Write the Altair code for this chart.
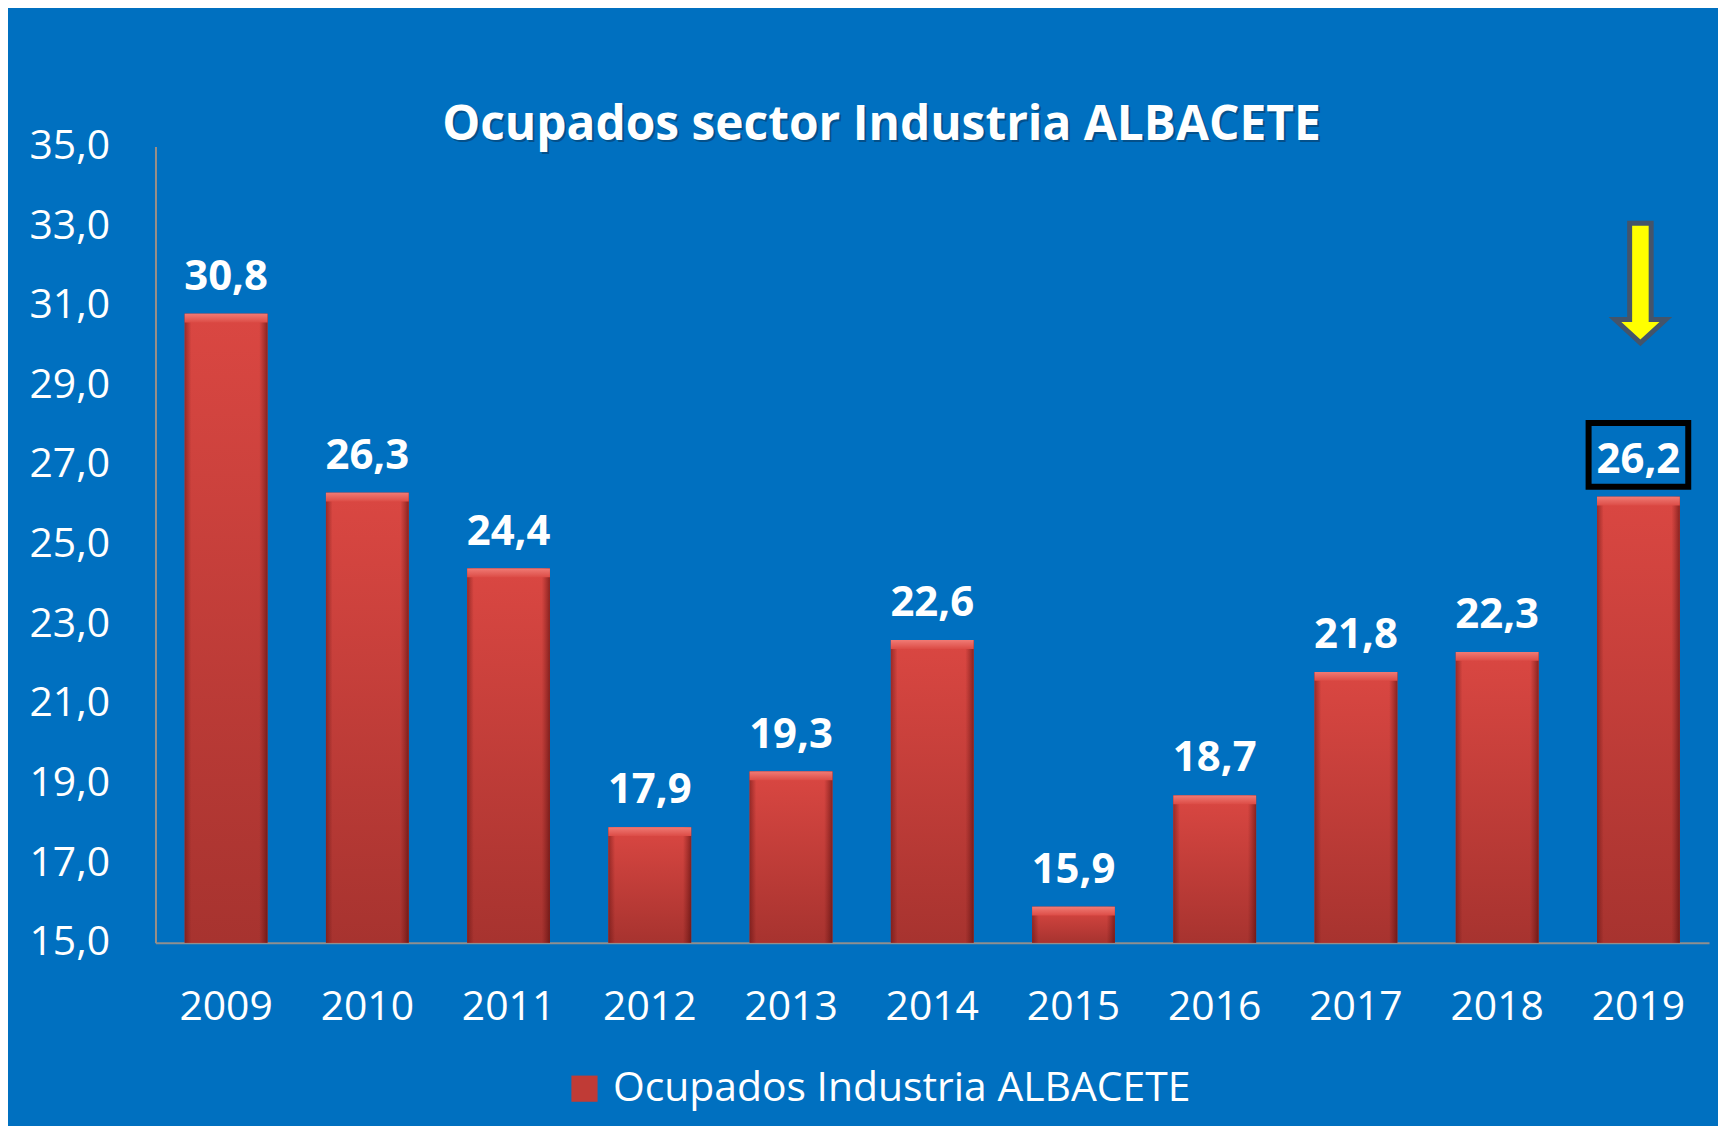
import altair as alt
import pandas as pd

# ---- data ----
years = ["2009", "2010", "2011", "2012", "2013", "2014", "2015", "2016", "2017", "2018", "2019"]
values = [30.8, 26.3, 24.4, 17.9, 19.3, 22.6, 15.9, 18.7, 21.8, 22.3, 26.2]
series_name = "Ocupados Industria ALBACETE"
title_text = "Ocupados sector Industria ALBACETE"
y_ticks = [15, 17, 19, 21, 23, 25, 27, 29, 31, 33, 35]
highlight_year = "2019"

df = pd.DataFrame({"year": years, "value": values, "serie": [series_name] * len(years)})
title_df = pd.DataFrame({"t": [title_text]})

W, H = 1559, 799
BG = "#0070c0"
FONT = "Open Sans"

x_enc = alt.X(
    "year:N",
    sort=years,
    scale=alt.Scale(paddingInner=0.414, paddingOuter=0.207),
    axis=alt.Axis(
        title=None, labelAngle=0, labelFontSize=41, labelFont=FONT, labelColor="white",
        labelPadding=45, ticks=False, domainColor="#8f8f8f", domainWidth=2, grid=False,
    ),
)
y_scale = alt.Scale(domain=[15, 35], zero=False, nice=False)
y_enc = alt.Y(
    "value:Q",
    scale=y_scale,
    axis=alt.Axis(
        title=None, values=y_ticks, labelExpr="replace(format(datum.value, '.1f'), '.', ',')",
        labelFontSize=41, labelFont=FONT, labelColor="white", labelPadding=46,
        ticks=False, grid=False, domainColor="#9a8f86", domainWidth=2,
    ),
)

base = alt.Chart(df)

# bars carrying the legend (solid colour, hidden under gradient bars)
legend_bars = base.mark_bar().encode(
    x=x_enc,
    y=y_enc,
    y2=alt.datum(15),
    color=alt.Color(
        "serie:N",
        scale=alt.Scale(range=["#c03b36"]),
        legend=alt.Legend(
            title=None, orient="none", legendX=410, legendY=925, symbolType="square",
            symbolSize=690, symbolStrokeWidth=0, labelFontSize=41, labelFont=FONT,
            labelColor="white", labelOffset=8, padding=0, labelLimit=900,
        ),
    ),
)

grad_main = alt.Gradient(
    gradient="linear",
    stops=[alt.GradientStop(color="#da4742", offset=0), alt.GradientStop(color="#a7332f", offset=1)],
    x1=0, x2=0, y1=0, y2=1,
)
bars = base.mark_bar(color=grad_main).encode(x=x_enc, y="value:Q", y2=alt.datum(15))

grad_side = alt.Gradient(
    gradient="linear",
    stops=[
        alt.GradientStop(color="rgba(80,10,10,0.45)", offset=0),
        alt.GradientStop(color="rgba(80,10,10,0)", offset=0.08),
        alt.GradientStop(color="rgba(80,10,10,0)", offset=0.9),
        alt.GradientStop(color="rgba(60,0,0,0.5)", offset=1),
    ],
    x1=0, x2=1, y1=0, y2=0,
)
sides = base.mark_bar(color=grad_side).encode(x=x_enc, y="value:Q", y2=alt.datum(15))

grad_top = alt.Gradient(
    gradient="linear",
    stops=[alt.GradientStop(color="#f07a74", offset=0), alt.GradientStop(color="#dc4c46", offset=1)],
    x1=0, x2=0, y1=0, y2=1,
)
bevel = base.transform_calculate(top2="datum.value - 0.22").mark_bar(color=grad_top).encode(
    x=x_enc, y="value:Q", y2="top2:Q"
)

# highlight box around the last label
box_path = "M -1 -0.64 L 1 -0.64 L 1 0.64 L -1 0.64 Z"
box = base.transform_filter(alt.datum.year == highlight_year).mark_point(
    shape=box_path, size=10000, filled=True, fill=BG, stroke="black", strokeWidth=6,
    opacity=1, fillOpacity=1, strokeOpacity=1, yOffset=-42,
).encode(x=x_enc, y="value:Q")

arrow_path = "M -0.18 -1 L 0.18 -1 L 0.18 0.61 L 0.425 0.61 L 0 1 L -0.425 0.61 L -0.18 0.61 Z"
arrow = base.transform_filter(alt.datum.year == highlight_year).mark_point(
    shape=arrow_path, size=14400, filled=True, fill="#ffff00", stroke="#44546a", strokeWidth=5,
    opacity=1, fillOpacity=1, strokeOpacity=1, yOffset=-214.5, xOffset=2,
).encode(x=x_enc, y="value:Q")

labels = base.transform_calculate(
    label="replace(format(datum.value, '.1f'), '.', ',')"
).mark_text(
    baseline="alphabetic", dy=-24, fontSize=42, fontWeight="bold", font=FONT, color="white"
).encode(x=x_enc, y="value:Q", text="label:N")

title_shadow = alt.Chart(title_df).mark_text(
    baseline="alphabetic", align="center", fontSize=48, fontWeight="bold", font=FONT,
    color="#0a2a4a", opacity=0.45,
).encode(x=alt.value(730.5), y=alt.value(-4), text="t:N")

title = alt.Chart(title_df).mark_text(
    baseline="alphabetic", align="center", fontSize=48, fontWeight="bold", font=FONT, color="white"
).encode(x=alt.value(728.5), y=alt.value(-6), text="t:N")

chart = alt.layer(
    legend_bars, bars, sides, bevel, box, arrow, labels, title_shadow, title
).properties(
    width=W,
    height=H,
    background=BG,
    padding={"left": 148, "top": 137, "right": 9, "bottom": 182},
    autosize=alt.AutoSizeParams(type="none"),
).configure_view(strokeWidth=0)

chart.save("out.html", embed_options={"renderer": "svg", "actions": False})
